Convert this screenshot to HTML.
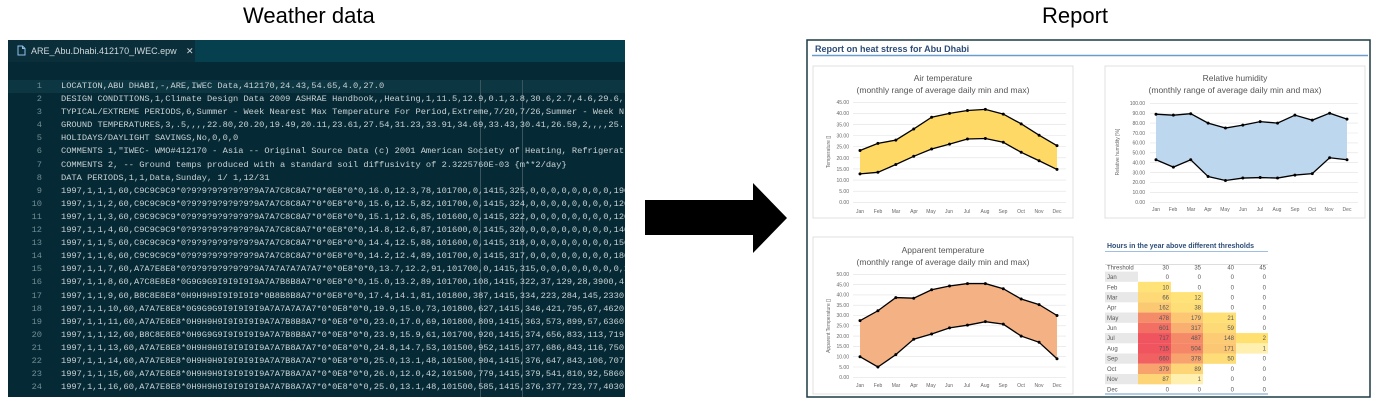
<!DOCTYPE html>
<html><head><meta charset="utf-8"><style>
body{margin:0;width:1382px;height:404px;background:#fff;position:relative;overflow:hidden;font-family:"Liberation Sans",sans-serif}
.h{position:absolute;top:3px;font-size:22px;color:#000;white-space:nowrap}
#ed{position:absolute;left:8px;top:40px;width:617px;height:357px;background:#062a35;overflow:hidden}
#tabbar{position:absolute;left:0;top:0;width:617px;height:22px;background:#06404f}
#tab{position:absolute;left:0;top:0;width:187px;height:22px;background:#0a2f3b;color:#d0d8dc;font-size:9px;line-height:22px;white-space:nowrap}
#hl{position:absolute;left:0;top:40px;width:617px;height:13px;background:#0c3642}
.ln{position:absolute;left:0;width:34px;text-align:right;font:8.7px/13.1px "Liberation Mono",monospace;color:#6f8d96}
.tx{position:absolute;left:53px;white-space:pre;font:8.7px/13.1px "Liberation Mono",monospace;color:#c9d2d4}
.g{position:absolute;top:40px;width:1px;height:317px;background:#3a5560}
</style></head><body>
<div class="h" style="left:243px">Weather data</div>
<div class="h" style="left:1042px">Report</div>
<div id="ed">
<div id="tabbar"></div>
<div id="tab"><svg width="9" height="11" style="position:absolute;left:9px;top:5px"><path d="M1 1 H5.5 L8 3.5 V10 H1 Z M5.5 1 V3.5 H8" fill="none" stroke="#8fc0ea" stroke-width="1"/></svg><span style="position:absolute;left:23px">ARE_Abu.Dhabi.412170_IWEC.epw</span><span style="position:absolute;left:178px">✕</span></div>
<div id="hl"></div>
<div class="g" style="left:472px"></div><div class="g" style="left:514px"></div>
<div class="ln" style="top:40px">1<br>2<br>3<br>4<br>5<br>6<br>7<br>8<br>9<br>10<br>11<br>12<br>13<br>14<br>15<br>16<br>17<br>18<br>19<br>20<br>21<br>22<br>23<br>24</div>
<div class="tx" style="top:40px">LOCATION,ABU DHABI,-,ARE,IWEC Data,412170,24.43,54.65,4.0,27.0
DESIGN CONDITIONS,1,Climate Design Data 2009 ASHRAE Handbook,,Heating,1,11.5,12.9,0.1,3.8,30.6,2.7,4.6,29.6,
TYPICAL/EXTREME PERIODS,6,Summer - Week Nearest Max Temperature For Period,Extreme,7/20,7/26,Summer - Week N
GROUND TEMPERATURES,3,.5,,,,22.80,20.20,19.49,20.11,23.61,27.54,31.23,33.91,34.69,33.43,30.41,26.59,2,,,,25.
HOLIDAYS/DAYLIGHT SAVINGS,No,0,0,0
COMMENTS 1,"IWEC- WMO#412170 - Asia -- Original Source Data (c) 2001 American Society of Heating, Refrigerat
COMMENTS 2, -- Ground temps produced with a standard soil diffusivity of 2.3225760E-03 {m**2/day}
DATA PERIODS,1,1,Data,Sunday, 1/ 1,12/31
1997,1,1,1,60,C9C9C9C9*0?9?9?9?9?9?9?9A7A7C8C8A7*0*0E8*0*0,16.0,12.3,78,101700,0,1415,325,0,0,0,0,0,0,0,0,190,
1997,1,1,2,60,C9C9C9C9*0?9?9?9?9?9?9?9A7A7C8C8A7*0*0E8*0*0,15.6,12.5,82,101700,0,1415,324,0,0,0,0,0,0,0,0,120,
1997,1,1,3,60,C9C9C9C9*0?9?9?9?9?9?9?9A7A7C8C8A7*0*0E8*0*0,15.1,12.6,85,101600,0,1415,322,0,0,0,0,0,0,0,0,120,
1997,1,1,4,60,C9C9C9C9*0?9?9?9?9?9?9?9A7A7C8C8A7*0*0E8*0*0,14.8,12.6,87,101600,0,1415,320,0,0,0,0,0,0,0,0,140,
1997,1,1,5,60,C9C9C9C9*0?9?9?9?9?9?9?9A7A7C8C8A7*0*0E8*0*0,14.4,12.5,88,101600,0,1415,318,0,0,0,0,0,0,0,0,150,
1997,1,1,6,60,C9C9C9C9*0?9?9?9?9?9?9?9A7A7C8C8A7*0*0E8*0*0,14.2,12.4,89,101700,0,1415,317,0,0,0,0,0,0,0,0,180,
1997,1,1,7,60,A7A7E8E8*0?9?9?9?9?9?9?9A7A7A7A7A7A7*0*0E8*0*0,13.7,12.2,91,101700,0,1415,315,0,0,0,0,0,0,0,0,190,
1997,1,1,8,60,A7C8E8E8*0G9G9G9I9I9I9I9A7A7B8B8A7*0*0E8*0*0,15.0,13.2,89,101700,108,1415,322,37,129,28,3900,4
1997,1,1,9,60,B8C8E8E8*0H9H9H9I9I9I9I9*0B8B8B8A7*0*0E8*0*0,17.4,14.1,81,101800,387,1415,334,223,284,145,2330
1997,1,1,10,60,A7A7E8E8*0G9G9G9I9I9I9I9A7A7A7A7A7*0*0E8*0*0,19.9,15.0,73,101800,627,1415,346,421,795,67,4620
1997,1,1,11,60,A7A7E8E8*0H9H9H9I9I9I9I9A7A7B8B8A7*0*0E8*0*0,23.0,17.0,69,101800,809,1415,363,573,899,57,6360
1997,1,1,12,60,B8C8E8E8*0H9G9G9I9I9I9I9A7A7B8B8A7*0*0E8*0*0,23.9,15.9,61,101700,920,1415,374,656,833,113,719
1997,1,1,13,60,A7A7E8E8*0H9H9H9I9I9I9I9A7A7B8A7A7*0*0E8*0*0,24.8,14.7,53,101500,952,1415,377,686,843,116,750
1997,1,1,14,60,A7A7E8E8*0H9H9H9I9I9I9I9A7A7B8A7A7*0*0E8*0*0,25.0,13.1,48,101500,904,1415,376,647,843,106,707
1997,1,1,15,60,A7A7E8E8*0H9H9H9I9I9I9I9A7A7B8A7A7*0*0E8*0*0,26.0,12.0,42,101500,779,1415,379,541,810,92,5860
1997,1,1,16,60,A7A7E8E8*0H9H9H9I9I9I9I9A7A7B8A7A7*0*0E8*0*0,25.0,13.1,48,101500,585,1415,376,377,723,77,4030</div>
</div>

<svg width="1382" height="404" style="position:absolute;left:0;top:0" font-family="Liberation Sans, sans-serif">
<polygon points="645,200 753,200 753,183 787,218 753,253 753,235 645,235" fill="#000"/>
<rect x="807" y="40" width="563" height="357" fill="#fff" stroke="#1d3a44" stroke-width="1.5"/>
<text x="815" y="52" font-size="9" font-weight="bold" fill="#2e4d78">Report on heat stress for Abu Dhabi</text>
<line x1="812" y1="55.5" x2="1368" y2="55.5" stroke="#6a9ccc" stroke-width="1.5"/>

<g fill="#fff" stroke="#d9d9d9" stroke-width="0.8">
<rect x="813" y="66" width="260" height="152"/><rect x="1105" y="66" width="260" height="152"/><rect x="813" y="237" width="260" height="157"/>
</g>
<g id="grid" stroke="#e2e2e2" stroke-width="0.6"></g>
<g id="plots"></g>

<g font-size="8.5" fill="#555" text-anchor="middle">
<text x="943" y="81">Air temperature</text><text x="943" y="93">(monthly range of average daily min and max)</text>
<text x="1235" y="81">Relative humidity</text><text x="1235" y="93">(monthly range of average daily min and max)</text>
<text x="943" y="253">Apparent temperature</text><text x="943" y="265">(monthly range of average daily min and max)</text>
</g>
<g font-size="5" fill="#666" text-anchor="end">
<text x="849" y="204">0.00</text><text x="849" y="193">5.00</text><text x="849" y="182">10.00</text><text x="849" y="171">15.00</text><text x="849" y="160">20.00</text><text x="849" y="148.5">25.00</text><text x="849" y="137.5">30.00</text><text x="849" y="126.5">35.00</text><text x="849" y="115">40.00</text><text x="849" y="104">45.00</text>
<text x="1145" y="204">0.00</text><text x="1145" y="194">10.00</text><text x="1145" y="184">20.00</text><text x="1145" y="174.5">30.00</text><text x="1145" y="164.5">40.00</text><text x="1145" y="154.5">50.00</text><text x="1145" y="144.5">60.00</text><text x="1145" y="135">70.00</text><text x="1145" y="125">80.00</text><text x="1145" y="115">90.00</text><text x="1145" y="105">100.00</text>
<text x="849" y="379">0.00</text><text x="849" y="369">5.00</text><text x="849" y="358.5">10.00</text><text x="849" y="348">15.00</text><text x="849" y="338">20.00</text><text x="849" y="327.5">25.00</text><text x="849" y="317">30.00</text><text x="849" y="307">35.00</text><text x="849" y="296.5">40.00</text><text x="849" y="286.5">45.00</text><text x="849" y="276">50.00</text>
</g>
<g font-size="5" fill="#666" text-anchor="middle">
<text transform="translate(830,152) rotate(-90)">Temperature []</text>
<text transform="translate(1119,152) rotate(-90)">Relative humidity [%]</text>
<text transform="translate(830,326) rotate(-90)">Apparent Temperature []</text>
</g>
<g font-size="5" fill="#666" text-anchor="middle">
<text x="860" y="213">Jan</text><text x="878" y="213">Feb</text><text x="896" y="213">Mar</text><text x="914" y="213">Apr</text><text x="931" y="213">May</text><text x="949" y="213">Jun</text><text x="967" y="213">Jul</text><text x="985" y="213">Aug</text><text x="1003" y="213">Sep</text><text x="1021" y="213">Oct</text><text x="1039" y="213">Nov</text><text x="1057" y="213">Dec</text>
<text x="1156" y="211">Jan</text><text x="1173" y="211">Feb</text><text x="1191" y="211">Mar</text><text x="1208" y="211">Apr</text><text x="1225" y="211">May</text><text x="1243" y="211">Jun</text><text x="1260" y="211">Jul</text><text x="1277" y="211">Aug</text><text x="1295" y="211">Sep</text><text x="1312" y="211">Oct</text><text x="1329" y="211">Nov</text><text x="1347" y="211">Dec</text>
<text x="860" y="387">Jan</text><text x="878" y="387">Feb</text><text x="896" y="387">Mar</text><text x="914" y="387">Apr</text><text x="931" y="387">May</text><text x="949" y="387">Jun</text><text x="967" y="387">Jul</text><text x="985" y="387">Aug</text><text x="1003" y="387">Sep</text><text x="1021" y="387">Oct</text><text x="1039" y="387">Nov</text><text x="1057" y="387">Dec</text>
</g>

<text x="1107" y="248" font-size="7" font-weight="bold" fill="#2e4d78">Hours in the year above different thresholds</text>
<line x1="1105" y1="251.5" x2="1268" y2="251.5" stroke="#9dbfe0" stroke-width="1"/>
<g id="cells"></g>
<g font-size="6" fill="#555">
<text x="1107" y="269.5">Threshold</text>
<text x="1107" y="279">Jan</text><text x="1107" y="289.5">Feb</text><text x="1107" y="299.5">Mar</text><text x="1107" y="309.5">Apr</text><text x="1107" y="320">May</text><text x="1107" y="330">Jun</text><text x="1107" y="340">Jul</text><text x="1107" y="350.5">Aug</text><text x="1107" y="360.5">Sep</text><text x="1107" y="371">Oct</text><text x="1107" y="381">Nov</text><text x="1107" y="391.5">Dec</text>
</g>
<g font-size="6" fill="#555" text-anchor="end">
<text x="1169" y="269.5">30</text><text x="1201" y="269.5">35</text><text x="1234" y="269.5">40</text><text x="1266" y="269.5">45</text>
<text x="1169" y="279">0</text><text x="1201" y="279">0</text><text x="1234" y="279">0</text><text x="1266" y="279">0</text>
<text x="1169" y="289.5">10</text><text x="1201" y="289.5">0</text><text x="1234" y="289.5">0</text><text x="1266" y="289.5">0</text>
<text x="1169" y="299.5">66</text><text x="1201" y="299.5">12</text><text x="1234" y="299.5">0</text><text x="1266" y="299.5">0</text>
<text x="1169" y="309.5">162</text><text x="1201" y="309.5">38</text><text x="1234" y="309.5">0</text><text x="1266" y="309.5">0</text>
<text x="1169" y="320">478</text><text x="1201" y="320">179</text><text x="1234" y="320">21</text><text x="1266" y="320">0</text>
<text x="1169" y="330">601</text><text x="1201" y="330">317</text><text x="1234" y="330">59</text><text x="1266" y="330">0</text>
<text x="1169" y="340">717</text><text x="1201" y="340">487</text><text x="1234" y="340">148</text><text x="1266" y="340">2</text>
<text x="1169" y="350.5">715</text><text x="1201" y="350.5">504</text><text x="1234" y="350.5">171</text><text x="1266" y="350.5">1</text>
<text x="1169" y="360.5">660</text><text x="1201" y="360.5">378</text><text x="1234" y="360.5">50</text><text x="1266" y="360.5">0</text>
<text x="1169" y="371">379</text><text x="1201" y="371">89</text><text x="1234" y="371">0</text><text x="1266" y="371">0</text>
<text x="1169" y="381">87</text><text x="1201" y="381">1</text><text x="1234" y="381">0</text><text x="1266" y="381">0</text>
<text x="1169" y="391.5">0</text><text x="1201" y="391.5">0</text><text x="1234" y="391.5">0</text><text x="1266" y="391.5">0</text>
</g>
<line x1="1105" y1="264.5" x2="1268" y2="264.5" stroke="#bbb" stroke-width="0.5"/>
<line x1="1105" y1="394" x2="1268" y2="394" stroke="#6a9ccc" stroke-width="1"/>
</svg>
<script>
var NS="http://www.w3.org/2000/svg";
function el(p,t,a){var e=document.createElementNS(NS,t);for(var k in a)e.setAttribute(k,a[k]);p.appendChild(e);return e;}
var grid=document.getElementById('grid'),plots=document.getElementById('plots');
function chart(xJ,xD,y0,yT,vmax,step,mx,mn,fill,gx1,gx2){
 for(var v=0;v<=vmax+0.01;v+=step){var y=y0-(y0-yT)*v/vmax;el(grid,'line',{x1:gx1,x2:gx2,y1:y,y2:y});}
 var px=function(i){return xJ+(xD-xJ)*i/11},py=function(v){return y0-(y0-yT)*v/vmax};
 var top=mx.map(function(v,i){return px(i)+','+py(v)}),bot=mn.map(function(v,i){return px(i)+','+py(v)});
 el(plots,'polygon',{points:top.concat(bot.slice().reverse()).join(' '),fill:fill});
 el(plots,'polyline',{points:top.join(' '),fill:'none',stroke:'#000','stroke-width':1.3});
 el(plots,'polyline',{points:bot.join(' '),fill:'none',stroke:'#000','stroke-width':1.3});
 mx.concat(mn).forEach(function(v,i){el(plots,'circle',{cx:px(i%12),cy:py(v),r:1.5,fill:'#000'});});
}
chart(860,1057,202.3,102.3,45,5,[23.3,26.5,28,33,38.3,40,41.3,41.8,39.7,35.3,30.2,25.5],[12.8,13.5,17,20.7,24,26.2,28.5,28.7,27,22.5,18.7,14.8],'#ffd966',853,1066);
chart(1156,1347,202.3,103.3,100,10,[89,88,89.5,80,75,78,81.5,80,88,83,90,84],[43,35.5,43,26,22,24.5,25,24.5,27.5,29,45,43],'#bdd7ee',1150,1358);
chart(860,1057,377.3,274.3,50,5,[27.5,32.3,38.7,38.4,42.5,44.3,45.5,45.5,43,38,35.3,30],[10,5,11,18.5,21,24,25.3,27,25.8,20,17,9],'#f4b183',853,1066);
var cells=document.getElementById('cells');
var data=[[0,0,0,0],[10,0,0,0],[66,12,0,0],[162,38,0,0],[478,179,21,0],[601,317,59,0],[717,487,148,2],[715,504,171,1],[660,378,50,0],[379,89,0,0],[87,1,0,0],[0,0,0,0]];
var cx=[1138,1171,1203,1236,1268];
function col(v){if(v<=2)return v==2?'#ffe070':'#fff0b0';var t=Math.min(1,v/717);
 var a=[255,228,120],b=[248,168,110],c=[240,84,95],r;
 if(t<0.5){var s=t/0.5;r=a.map(function(x,i){return x+(b[i]-x)*s})}else{var s=(t-0.5)/0.5;r=b.map(function(x,i){return x+(c[i]-x)*s})}
 return 'rgb('+r.map(Math.round).join(',')+')';}
data.forEach(function(row,i){var y=271.6+i*10.24;
 if(i%2==0)el(cells,'rect',{x:1105,y:y,width:33,height:10.24,fill:'#e8e8e8'});
 row.forEach(function(v,j){if(v>0)el(cells,'rect',{x:cx[j],y:y,width:cx[j+1]-cx[j],height:10.3,fill:col(v)});});
});
</script>
</body></html>
